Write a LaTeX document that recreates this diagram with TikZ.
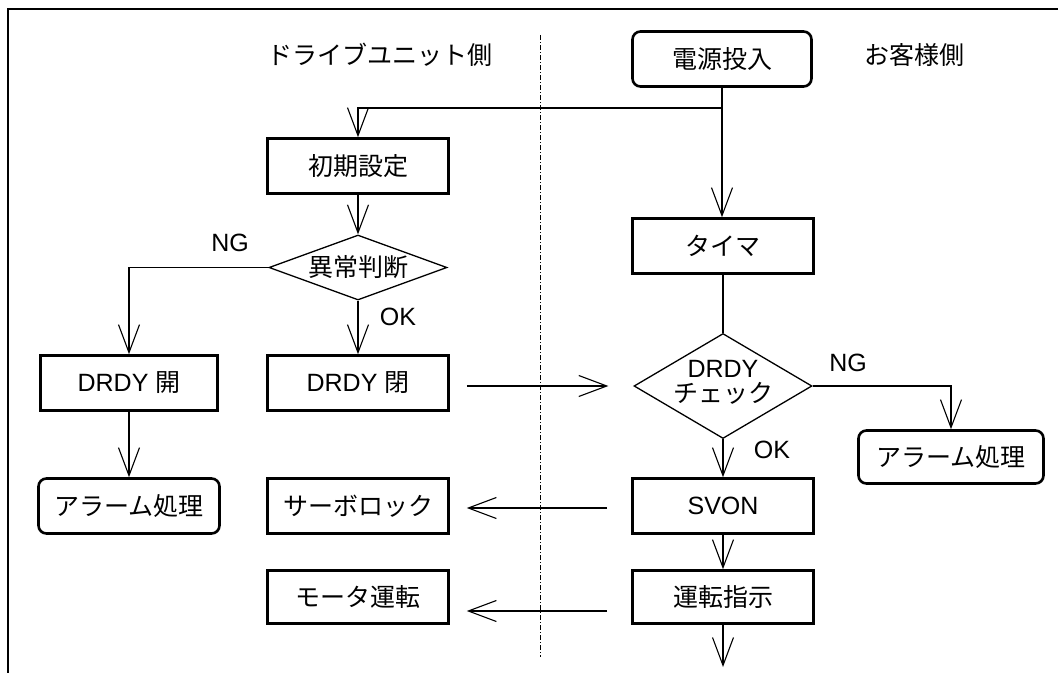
\documentclass[tikz,border=0pt]{standalone}
\usepackage{fontspec}
\setmainfont{Liberation Sans}
\newfontfamily\jp{Noto Sans CJK JP}
\usetikzlibrary{arrows.meta,shapes.geometric}
\tikzset{
  every node/.style={font=\fontsize{25pt}{25pt}\selectfont},
  box/.style={draw, line width=2.6pt, rectangle, inner sep=0pt, minimum width=181pt, minimum height=55pt},
  rbox/.style={box, rounded corners=8pt},
  dec/.style={draw, line width=1.3pt, diamond, inner sep=0pt},
  conn/.style={line width=1.3pt},
  arr/.style={conn, -{Straight Barb[length=28pt,width=21pt,line width=1.1pt]}},
  lbl/.style={inner sep=0pt},
  sep/.style={line width=1pt, dash pattern=on 5pt off 2pt on 1pt off 2pt},
  frame/.style={line width=2.8pt}
}
\begin{document}
\begin{tikzpicture}[x=1pt,y=-1pt]
\useasboundingbox (0,0) rectangle (1058,673);
% frame
\draw[frame] (1058,9) -- (8,9) -- (8,673);
% separator
\draw[sep] (540,35) -- (540,657);
% side titles
\node[lbl] (tleft) at (380,55) {\jp ドライブユニット側};
\node[lbl] (tright) at (914,55) {\jp お客様側};
% right column
\node[rbox, minimum width=179pt] (pwr) at (722,59) {\jp 電源投入};
\node[box] (timer) at (723,246) {\jp タイマ};
\node[dec, minimum width=178pt, minimum height=105pt] (chk) at (723,386) {};
\node[lbl, align=center] (chklbl) at ([yshift=3.5pt]chk.center) {DRDY\\{\jp チェック}};
\node[rbox, minimum width=185pt, minimum height=53pt] (alarmR) at (951,457) {\jp アラーム処理};
\node[box] (svon) at (723,506) {SVON};
\node[box, minimum height=53pt] (unten) at (723,597) {\jp 運転指示};
\coordinate (endp) at (723,667);
% left column
\node[box] (init) at (358,166) {\jp 初期設定};
\node[dec, minimum width=178pt, minimum height=65pt, shape aspect=2.7] (ijo) at (358,267.5) {\jp 異常判断};
\node[box, minimum width=177pt] (drdyo) at (129,383) {DRDY {\jp 開}};
\node[box] (drdyc) at (358,383) {DRDY {\jp 閉}};
\node[rbox] (alarmL) at (129,506) {\jp アラーム処理};
\node[box] (servo) at (358,506) {\jp サーボロック};
\node[box, minimum height=53pt] (motor) at (358,597) {\jp モータ運転};
% branch labels
\node[lbl] (ng1) at (230,243) {NG};
\node[lbl] (ok1) at (398,317) {OK};
\node[lbl] (ng2) at (848,363) {NG};
\node[lbl] (ok2) at (772,450) {OK};
% connectors
\coordinate (j) at (722,108);
\draw[conn] (pwr.south) -- (j);
\draw[arr] (j) -| (init.north);
\draw[arr] (j) -- (j |- timer.north);
\draw[arr] (init.south) -- (ijo.north);
\draw[arr] (ijo.west) -| (drdyo.north);
\draw[arr] (ijo.south) -- (drdyc.north);
\draw[arr] (drdyo.south) -- (alarmL.north);
\draw[arr, shorten <=17pt, shorten >=25pt] (drdyc.east |- chk.west) -- (chk.west);
\draw[conn] (timer.south) -- (chk.north);
\draw[arr] (chk.east) -| (alarmR.north);
\draw[arr] (chk.south) -- (svon.north);
\draw[arr, shorten <=24pt, shorten >=17pt] ([yshift=-2pt]svon.west) -- ([yshift=-2pt]servo.east);
\draw[arr] (svon.south) -- (unten.north);
\draw[arr, shorten <=24pt, shorten >=17pt] ([yshift=-14pt]unten.west) -- ([yshift=-14pt]motor.east);
\draw[arr] (unten.south) -- (endp);
\end{tikzpicture}
\end{document}
